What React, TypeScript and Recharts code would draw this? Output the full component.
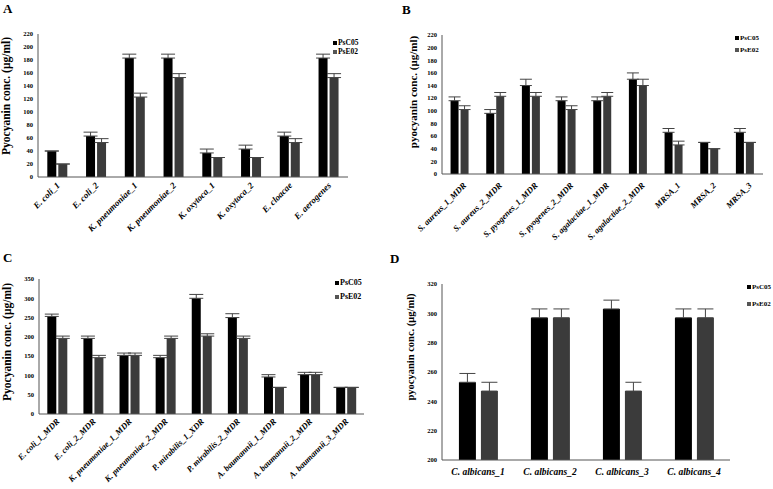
import React from 'react';
import { BarChart, Bar, XAxis, YAxis, ErrorBar } from 'recharts';

const FONT = '"Liberation Serif", "Times New Roman", serif';
const C05 = '#000000';
const E02 = '#3b3b3b';
const ERR = '#444444';

// Panel A
const catsA = ['E. coli_1', 'E. coli_2', 'K. pneumoniae_1', 'K. pneumoniae_2', 'K. oxytoca_1', 'K. oxytoca_2', 'E. cloacae', 'E. aerogenes'];
const c05A = [40, 63, 183, 183, 37, 43, 63, 183];
const e02A = [20, 53, 123, 153, 30, 30, 53, 153];
const c05ErrA = [0, 6, 6, 6, 6, 6, 6, 6];
const e02ErrA = [0, 6, 6, 6, 0, 0, 6, 6];
const ticksA = [0, 20, 40, 60, 80, 100, 120, 140, 160, 180, 200, 220];

// Panel B
const catsB = ['S. aureus_1_MDR', 'S. aureus_2_MDR', 'S. pyogenes_1_MDR', 'S. pyogenes_2_MDR', 'S. agalactiae_1_MDR', 'S. agalactiae_2_MDR', 'MRSA_1', 'MRSA_2', 'MRSA_3'];
const c05B = [116, 96, 140, 116, 116, 150, 66, 50, 66];
const e02B = [102, 123, 123, 102, 123, 140, 46, 40, 50];
const c05ErrB = [6, 6, 10, 6, 6, 10, 6, 0, 6];
const e02ErrB = [6, 6, 6, 6, 6, 10, 6, 0, 0];
const ticksB = [0, 20, 40, 60, 80, 100, 120, 140, 160, 180, 200, 220];

// Panel C
const catsC = ['E. coli_1_MDR', 'E. coli_2_MDR', 'K. pneumoniae_1_MDR', 'K. pneumoniae_2_MDR', 'P. mirabilis_1_XDR', 'P. mirabilis_2_MDR', 'A. baumannii_1_MDR', 'A. baumannii_2_MDR', 'A. baumannii_3_MDR'];
const c05C = [253, 196, 152, 146, 300, 250, 96, 102, 69];
const e02C = [196, 146, 152, 196, 202, 196, 69, 102, 69];
const c05ErrC = [6, 6, 6, 6, 10, 10, 6, 6, 0];
const e02ErrC = [6, 6, 6, 6, 6, 6, 0, 6, 0];
const ticksC = [0, 50, 100, 150, 200, 250, 300, 350];

// Panel D
const catsD = ['C. albicans_1', 'C. albicans_2', 'C. albicans_3', 'C. albicans_4'];
const c05D = [253, 297, 303, 297];
const e02D = [247, 297, 247, 297];
const c05ErrD = [6, 6, 6, 6];
const e02ErrD = [6, 6, 6, 6];
const ticksD = [200, 220, 240, 260, 280, 300, 320];

const seriesNames = ['PsC05', 'PsE02'];

function build(cats: string[], a: number[], b: number[], ea: number[], eb: number[]) {
  return cats.map((name, i) => ({ name, c05: a[i], e02: b[i], c05e: [0, ea[i]], e02e: [0, eb[i]] }));
}

const dataA = build(catsA, c05A, e02A, c05ErrA, e02ErrA);
const dataB = build(catsB, c05B, e02B, c05ErrB, e02ErrB);
const dataC = build(catsC, c05C, e02C, c05ErrC, e02ErrC);
const dataD = build(catsD, c05D, e02D, c05ErrD, e02ErrD);

const RotTick = (props: any) => {
  const { x, y, payload, ox, oy, fs } = props;
  const ax = x + ox;
  const ay = y + oy;
  return (
    <text x={ax} y={ay} transform={`rotate(-45 ${ax} ${ay})`} textAnchor="end" fontFamily={FONT}
      fontSize={fs} fontWeight="bold" fontStyle="italic" fill="#000">{payload.value}</text>
  );
};

const FlatTick = (props: any) => {
  const { x, y, payload, fs } = props;
  return (
    <text x={x} y={y + 15} textAnchor="middle" fontFamily={FONT}
      fontSize={fs} fontWeight="bold" fontStyle="italic" fill="#000">{payload.value}</text>
  );
};

const YLabel = (props: any) => {
  const { lx, ly, text, fs } = props;
  return (
    <text x={lx} y={ly} transform={`rotate(-90 ${lx} ${ly})`} textAnchor="middle" dominantBaseline="central"
      fontFamily={FONT} fontSize={fs} fontWeight="bold" fill="#000">{text}</text>
  );
};

type PanelProps = {
  data: any[];
  left: number; top: number; width: number; height: number;
  plotLeft: number; plotTop: number; plotRight: number; plotBottom: number;
  xHeight: number;
  domain: [number, number];
  ticks: number[];
  yLabel: string; lx: number; ly: number; labelFs: number;
  gapPct: string; barGap: number; errW: number;
  rotated: boolean; ox: number; oy: number; xFs: number;
  letter: string; letterX: number; letterY: number;
  legX: number; legY1: number; legY2: number; legFs: number;
};

const Panel = (p: PanelProps) => {
  const yw = p.plotLeft - p.left;
  const mt = p.plotTop - p.top;
  const mr = p.left + p.width - p.plotRight;
  const mb = p.top + p.height - p.plotBottom - p.xHeight;
  return (
    <>
      <div style={{ position: 'absolute', left: p.left, top: p.top, width: p.width, height: p.height }}>
        <BarChart width={p.width} height={p.height} data={p.data}
          margin={{ top: mt, right: mr, bottom: mb, left: 0 }}
          barCategoryGap={p.gapPct} barGap={p.barGap}>
          <XAxis dataKey="name" interval={0} height={p.xHeight} tickLine={false} tickSize={0} tickMargin={0}
            axisLine={{ stroke: '#555', strokeWidth: 1 }}
            tick={p.rotated ? <RotTick ox={p.ox} oy={p.oy} fs={p.xFs} /> : <FlatTick fs={p.xFs} />} />
          <YAxis width={yw} domain={p.domain} ticks={p.ticks} interval={0} allowDataOverflow
            tickLine={false} tickSize={0} tickMargin={5}
            axisLine={{ stroke: '#555', strokeWidth: 1 }}
            tick={{ fontSize: 6.5, fontWeight: 'bold', fill: '#000', fontFamily: FONT }}
            label={<YLabel lx={p.lx - p.left} ly={p.ly - p.top} text={p.yLabel} fs={p.labelFs} />} />
          <Bar dataKey="c05" name={seriesNames[0]} fill={C05} isAnimationActive={false}>
            <ErrorBar dataKey="c05e" width={p.errW} stroke={ERR} strokeWidth={1} direction="y" />
          </Bar>
          <Bar dataKey="e02" name={seriesNames[1]} fill={E02} isAnimationActive={false}>
            <ErrorBar dataKey="e02e" width={p.errW} stroke={ERR} strokeWidth={1} direction="y" />
          </Bar>
        </BarChart>
      </div>
      <div style={{ position: 'absolute', left: p.letterX, top: p.letterY, fontFamily: FONT, fontWeight: 'bold', fontSize: 13, lineHeight: '13px' }}>{p.letter}</div>
      {[p.legY1, p.legY2].map((ly, i) => (
        <div key={i} style={{ position: 'absolute', left: p.legX, top: ly - 4, height: 8, display: 'flex', alignItems: 'center', fontFamily: FONT, fontWeight: 'bold', fontSize: p.legFs, lineHeight: '8px', whiteSpace: 'nowrap' }}>
          <span style={{ display: 'inline-block', width: 3.5, height: 3.5, background: i === 0 ? C05 : '#555', marginRight: 1.5 }} />
          <span>{seriesNames[i]}</span>
        </div>
      ))}
    </>
  );
};

export default function App() {
  return (
    <div style={{ position: 'absolute', left: 0, top: 0, width: 773, height: 489, background: '#fff', overflow: 'hidden' }}>
      <Panel data={dataA} left={0} top={0} width={386} height={252}
        plotLeft={38} plotTop={34} plotRight={348} plotBottom={177} xHeight={70}
        domain={[0, 220]} ticks={ticksA} yLabel="Pyocyanin conc. (μg/ml)" lx={6} ly={96} labelFs={11.5}
        gapPct="24%" barGap={2} errW={7} rotated ox={3} oy={9} xFs={9}
        letter="A" letterX={3} letterY={2}
        legX={333} legY1={43} legY2={52} legFs={7.5} />
      <Panel data={dataB} left={386} top={0} width={387} height={252}
        plotLeft={442} plotTop={35} plotRight={763} plotBottom={174} xHeight={72}
        domain={[0, 220]} ticks={ticksB} yLabel="pyocyanin conc. (μg/ml)" lx={413} ly={92} labelFs={11}
        gapPct="24%" barGap={2} errW={6} rotated ox={7} oy={12} xFs={8.5}
        letter="B" letterX={402} letterY={3}
        legX={735} legY1={38} legY2={50} legFs={7} />
      <Panel data={dataC} left={0} top={244} width={386} height={245}
        plotLeft={39} plotTop={279} plotRight={364} plotBottom={414} xHeight={70}
        domain={[0, 350]} ticks={ticksC} yLabel="Pyocyanin conc. (μg/ml)" lx={7} ly={342} labelFs={11.5}
        gapPct="23%" barGap={2} errW={7} rotated ox={3} oy={8} xFs={8.5}
        letter="C" letterX={3} letterY={251}
        legX={335} legY1={283} legY2={297} legFs={8} />
      <Panel data={dataD} left={386} top={244} width={387} height={245}
        plotLeft={442} plotTop={284} plotRight={730} plotBottom={460} xHeight={25}
        domain={[200, 320]} ticks={ticksD} yLabel="pyocyanin conc. (μg/ml)" lx={410} ly={347} labelFs={10.5}
        gapPct="23.5%" barGap={5} errW={8} rotated={false} ox={0} oy={0} xFs={9.5}
        letter="D" letterX={390} letterY={252}
        legX={747} legY1={287} legY2={304} legFs={7} />
    </div>
  );
}
